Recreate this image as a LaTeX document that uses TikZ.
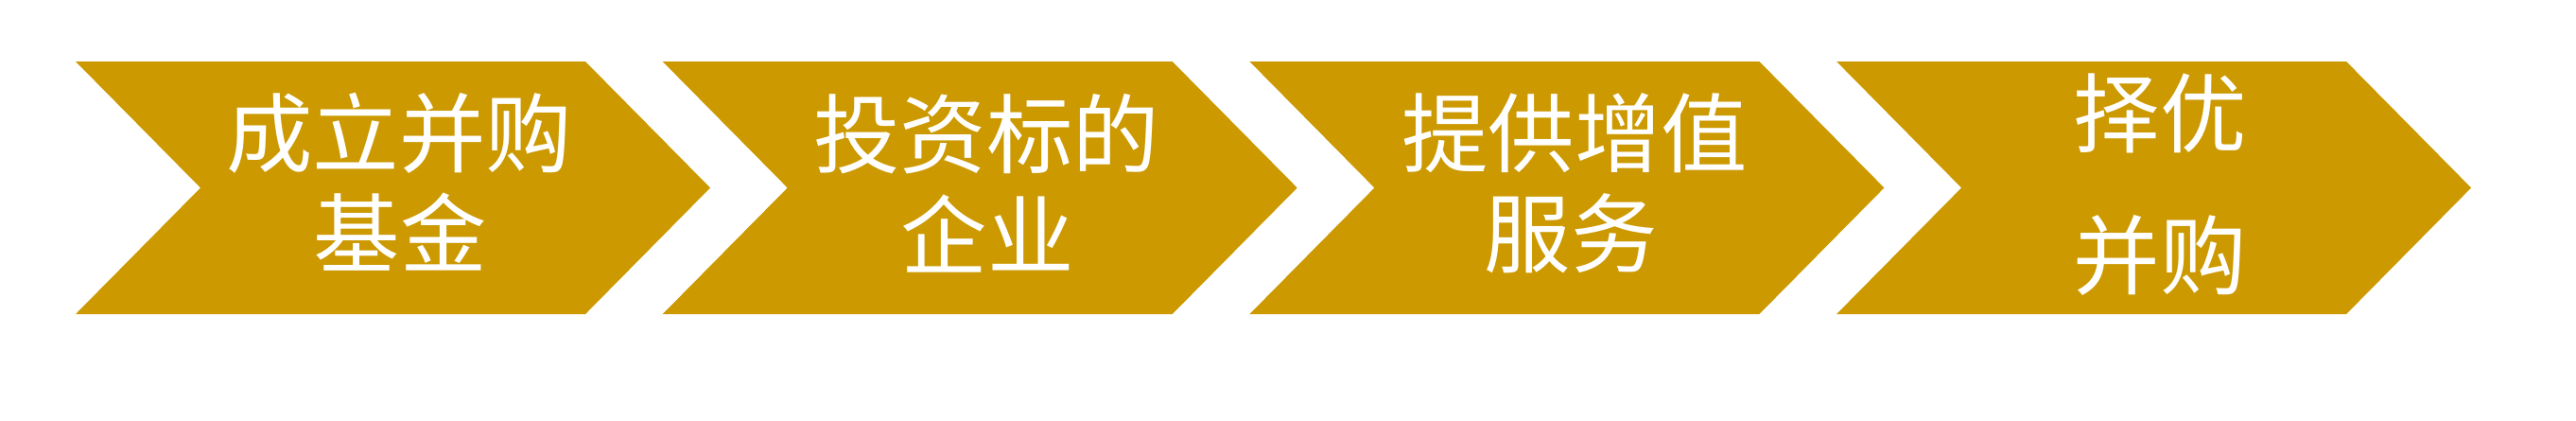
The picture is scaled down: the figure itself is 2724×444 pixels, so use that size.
\documentclass[tikz,border=0pt]{standalone}
\usepackage{fontspec}
\newfontfamily\cjk{Noto Sans CJK SC}
\definecolor{gold}{RGB}{204,153,0}
\tikzset{
  chev/.style={fill=gold, draw=none},
  lbl/.style={text=white, inner sep=0pt, anchor=center, font=\cjk\fontsize{26pt}{30pt}\selectfont}
}
\begin{document}
\begin{tikzpicture}[x=0.01cm, y=-0.01cm]
\useasboundingbox (0,0) rectangle (2724,444);
\foreach \i in {0,1,2,3} {
  \pgfmathsetmacro{\L}{80+\i*620.7}
  \fill[chev] (\L,65) -- ({\L+539},65) -- ({\L+671},198.5) -- ({\L+539},332) -- (\L,332) -- ({\L+132},198.5) -- cycle;
}
\node[lbl] (t1a) at (422,141) {成立并购};
\node[lbl] (t1b) at (423,245) {基金};
\node[lbl] (t2a) at (1043,142) {投资标的};
\node[lbl] (t2b) at (1044,247) {企业};
\node[lbl] (t3a) at (1665,141) {提供增值};
\node[lbl] (t3b) at (1661,247) {服务};
\node[lbl] (t4a) at (2284,120) {择优};
\node[lbl] (t4b) at (2284,270) {并购};
\end{tikzpicture}
\end{document}
